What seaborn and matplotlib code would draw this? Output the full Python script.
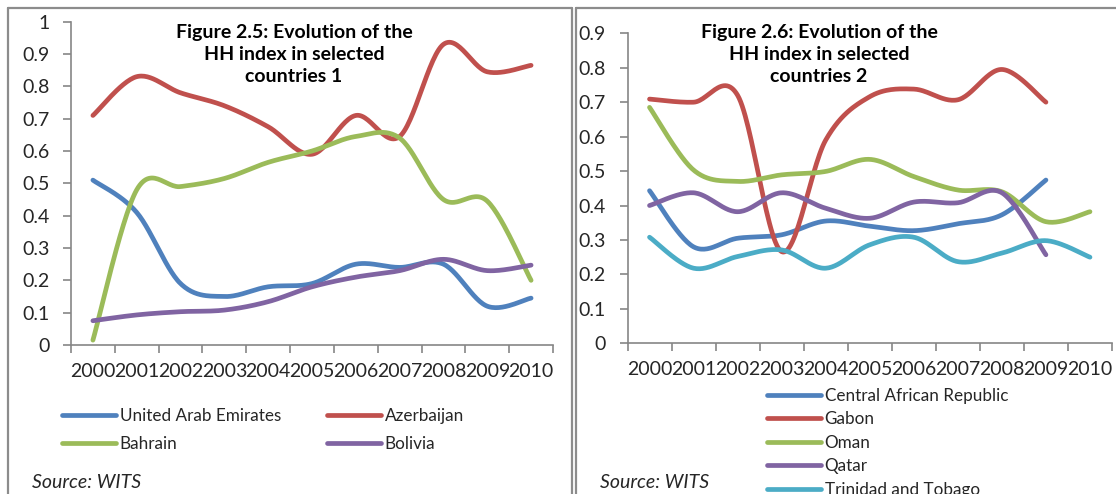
import numpy as np
import pandas as pd
import matplotlib
matplotlib.use("Agg")
import matplotlib.pyplot as plt
import seaborn as sns
from matplotlib.lines import Line2D

# ---------------- data ----------------
years = ["2000", "2001", "2002", "2003", "2004", "2005", "2006", "2007", "2008", "2009", "2010"]

left_names = ["United Arab Emirates", "Azerbaijan", "Bahrain", "Bolivia"]
uae = [0.51, 0.41, 0.19, 0.15, 0.18, 0.19, 0.25, 0.24, 0.25, 0.12, 0.145]
azerbaijan = [0.71, 0.83, 0.78, 0.74, 0.675, 0.59, 0.71, 0.645, 0.93, 0.845, 0.865]
bahrain = [0.015, 0.48, 0.49, 0.515, 0.565, 0.60, 0.645, 0.64, 0.45, 0.445, 0.20]
bolivia = [0.075, 0.093, 0.103, 0.108, 0.134, 0.18, 0.21, 0.23, 0.265, 0.23, 0.247]

right_names = ["Central African Republic", "Gabon", "Oman", "Qatar", "Trinidad and Tobago"]
car = [0.443, 0.28, 0.305, 0.315, 0.355, 0.34, 0.327, 0.347, 0.373, 0.474, None]
gabon = [0.709, 0.70, 0.72, 0.266, 0.59, 0.716, 0.738, 0.707, 0.795, 0.70, None]
oman = [0.685, 0.503, 0.47, 0.489, 0.499, 0.534, 0.484, 0.445, 0.44, 0.353, 0.382]
qatar = [0.40, 0.437, 0.382, 0.437, 0.392, 0.363, 0.41, 0.408, 0.437, 0.257, None]
trinidad = [0.308, 0.218, 0.252, 0.271, 0.218, 0.286, 0.308, 0.237, 0.262, 0.298, 0.25]

left_ticks = ["0", "0.1", "0.2", "0.3", "0.4", "0.5", "0.6", "0.7", "0.8", "0.9", "1"]
right_ticks = ["0", "0.1", "0.2", "0.3", "0.4", "0.5", "0.6", "0.7", "0.8", "0.9"]

left_title = "Figure 2.5: Evolution of the\nHH index in selected\ncountries 1"
right_title = "Figure 2.6: Evolution of the\nHH index in selected\ncountries 2"
source = "Source: WITS"

colors5 = ["#4F81BD", "#C0504D", "#9BBB59", "#8064A2", "#4BACC6"]

# ---------------- helpers ----------------
def smooth(vals, n=30):
    """Excel-like smoothed line (cubic Bezier, Catmull-Rom control points)."""
    pts = [(i, v) for i, v in enumerate(vals) if v is not None]
    P = np.array(pts, float)
    m = len(P)
    out = [P[0]]
    t = np.linspace(0, 1, n)[1:]
    for i in range(m - 1):
        p0 = P[i]
        p1 = P[i + 1]
        pm = P[i - 1] if i > 0 else P[i]
        pp = P[i + 2] if i + 2 < m else P[i + 1]
        c1 = p0 + (p1 - pm) / 6.0
        c2 = p1 - (pp - p0) / 6.0
        for tt in t:
            b = ((1 - tt) ** 3) * p0 + 3 * ((1 - tt) ** 2) * tt * c1 + 3 * (1 - tt) * tt ** 2 * c2 + tt ** 3 * p1
            out.append(b)
    out = np.array(out)
    return out[:, 0], out[:, 1]


def make_df(names, series):
    frames = []
    for name, vals in zip(names, series):
        sx, sy = smooth(vals)
        frames.append(pd.DataFrame({"x": sx, "y": sy, "series": name}))
    return pd.concat(frames, ignore_index=True)


# ---------------- figure ----------------
sns.set_theme(style="white")
plt.rcParams["font.family"] = ["Lato", "DejaVu Sans"]

W, H = 1116, 494
fig = plt.figure(figsize=(W / 100, H / 100), dpi=100)
fig.patch.set_facecolor("white")


def fx(px):
    return px / W


def fy(py):
    return 1 - py / H


axL = fig.add_axes([fx(71), fy(345), fx(553) - fx(71), fy(21.7) - fy(345)])
axR = fig.add_axes([fx(627.5), fy(343.3), fx(1112) - fx(627.5), fy(33.3) - fy(343.3)])

dfL = make_df(left_names, [uae, azerbaijan, bahrain, bolivia])
dfR = make_df(right_names, [car, gabon, oman, qatar, trinidad])

sns.lineplot(data=dfL, x="x", y="y", hue="series", palette=dict(zip(left_names, colors5[:4])),
             sort=False, estimator=None, units="series", linewidth=3.4, legend=False, ax=axL)
sns.lineplot(data=dfR, x="x", y="y", hue="series", palette=dict(zip(right_names, colors5)),
             sort=False, estimator=None, units="series", linewidth=3.4, legend=False, ax=axR)

axis_col = "#868686"
for ax, ymax, ylabels, pad in [(axL, 1.0, left_ticks, 9.5), (axR, 0.9, right_ticks, 10)]:
    ax.set_xlim(-0.5, 10.5)
    ax.set_ylim(0, ymax)
    ax.set_facecolor("white")
    for s in ["top", "right"]:
        ax.spines[s].set_visible(False)
    for s in ["left", "bottom"]:
        ax.spines[s].set_color(axis_col)
        ax.spines[s].set_linewidth(1.2)
    ax.set_xticks(np.arange(-0.5, 11, 1.0))
    ax.set_xticklabels([])
    ax.set_xticks(np.arange(0, 11, 1), minor=True)
    ax.set_xticklabels(years, minor=True, fontsize=14)
    ax.tick_params(axis="x", which="major", direction="out", length=6, width=1.2, color=axis_col, bottom=True)
    ax.tick_params(axis="x", which="minor", length=0, pad=13, labelsize=14, bottom=True)
    ax.set_yticks(np.linspace(0, ymax, len(ylabels)))
    ax.set_yticklabels(ylabels, fontsize=14)
    ax.tick_params(axis="y", direction="out", length=6, width=1.2, color=axis_col, pad=pad, left=True)
    ax.set_xlabel("")
    ax.set_ylabel("")
    ax.grid(False)

# titles
fig.text(fx(294), fy(24), left_title, ha="center", va="top", fontsize=14, fontweight="bold",
         linespacing=1.36, color="black")
fig.text(fx(819), fy(24), right_title, ha="center", va="top", fontsize=14, fontweight="bold",
         linespacing=1.36, color="black")

# legends (row-wise order for the two-column legend)
orderL = [0, 2, 1, 3]
hL = [Line2D([], [], color=colors5[i], linewidth=3.4, solid_capstyle="round") for i in orderL]
legL = fig.legend(hL, [left_names[i] for i in orderL], loc="upper left",
                  bbox_to_anchor=(fx(62), fy(408)), ncol=2,
                  frameon=False, fontsize=12.3, handlelength=3.15, handletextpad=0.23,
                  columnspacing=2.7, labelspacing=0.72, borderpad=0, borderaxespad=0)
hR = [Line2D([], [], color=c, linewidth=3.4, solid_capstyle="round") for c in colors5]
legR = fig.legend(hR, right_names, loc="upper left", bbox_to_anchor=(fx(767), fy(387.5)), ncol=1,
                  frameon=False, fontsize=12.3, handlelength=3.15, handletextpad=0.23,
                  labelspacing=0.44, borderpad=0, borderaxespad=0)

# source notes
fig.text(fx(32), fy(482), source, ha="left", va="center", fontsize=14, style="italic")
fig.text(fx(600.5), fy(482), source, ha="left", va="center", fontsize=14, style="italic")

# chart-area frames
frame_col = "#8c8c8c"
for (x0, y0, x1, y1) in [(8, 500, 8, 8), (8, 8, 572, 8), (572, 8, 572, 500),
                         (576, 500, 576, 8), (576, 8, 1120, 8)]:
    fig.add_artist(Line2D([fx(x0), fx(x1)], [fy(y0), fy(y1)], transform=fig.transFigure,
                          color=frame_col, linewidth=1.6))

fig.savefig("out.png", dpi=100, facecolor="white")
